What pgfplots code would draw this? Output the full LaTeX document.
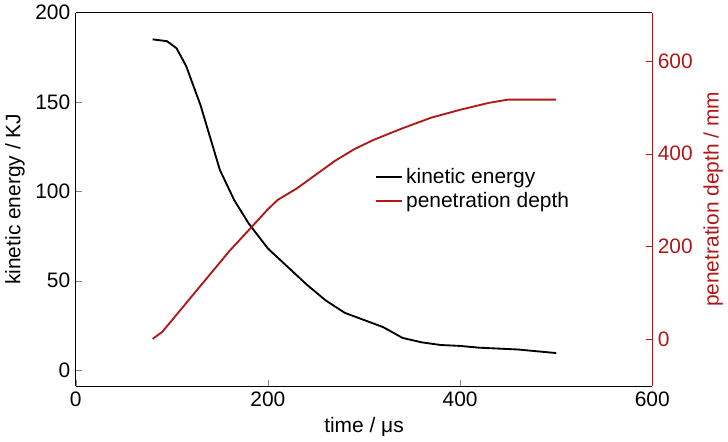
\documentclass[border=0pt]{standalone}
\usepackage{pgfplots}
\pgfplotsset{compat=1.18}
\usepackage{fontspec}
\setmainfont{Liberation Sans}
\definecolor{dred}{HTML}{B01818}
\begin{document}
\begin{tikzpicture}
\pgfplotsset{every axis/.append style={font=\fontsize{13.5}{16}\selectfont, /pgf/number format/assume math mode=true, scale only axis, width=372pt, height=241pt, xmin=0, xmax=600}}
\begin{axis}[axis y line*=left, axis x line*=bottom, ymin=-9, ymax=200,
  ytick={0,50,100,150,200}, xtick={0,200,400,600},
  xlabel={time / μs}, ylabel={kinetic energy / KJ},
  legend style={draw=none, fill=none, at={(0.51,0.6)}, anchor=north west, font=\fontsize{13.5}{16}\selectfont},
  legend cell align=left]
\addplot[black, line width=1.2pt] coordinates {(80,185)(95,184)(105,180)(115,170)(130,148)(140,130)(150,112)(165,95)(180,82)(200,68)(220,58)(240,48)(260,39)(280,32)(300,28)(320,24)(340,18)(360,15.5)(380,14)(400,13.5)(420,12.5)(440,12)(460,11.5)(480,10.5)(500,9.5)};
\addlegendentry{kinetic energy}
\addlegendimage{dred, line width=1.2pt}
\addlegendentry{penetration depth}
\draw (axis cs:0,200) -- (axis cs:600,200);
\end{axis}
\begin{axis}[axis y line*=right, axis x line=none, ymin=-102, ymax=705,
  ytick={0,200,400,600}, ylabel={penetration depth / mm},
  y axis line style={dred}, ytick style={dred}, yticklabel style={dred}, ylabel style={dred}]
\addplot[dred, line width=1.2pt] coordinates {(80,0)(90,15)(100,40)(120,90)(140,140)(160,190)(180,235)(200,280)(210,300)(230,325)(250,355)(270,385)(290,410)(310,430)(340,455)(370,478)(400,495)(430,510)(450,517)(500,517)};
\end{axis}
\end{tikzpicture}
\end{document}
